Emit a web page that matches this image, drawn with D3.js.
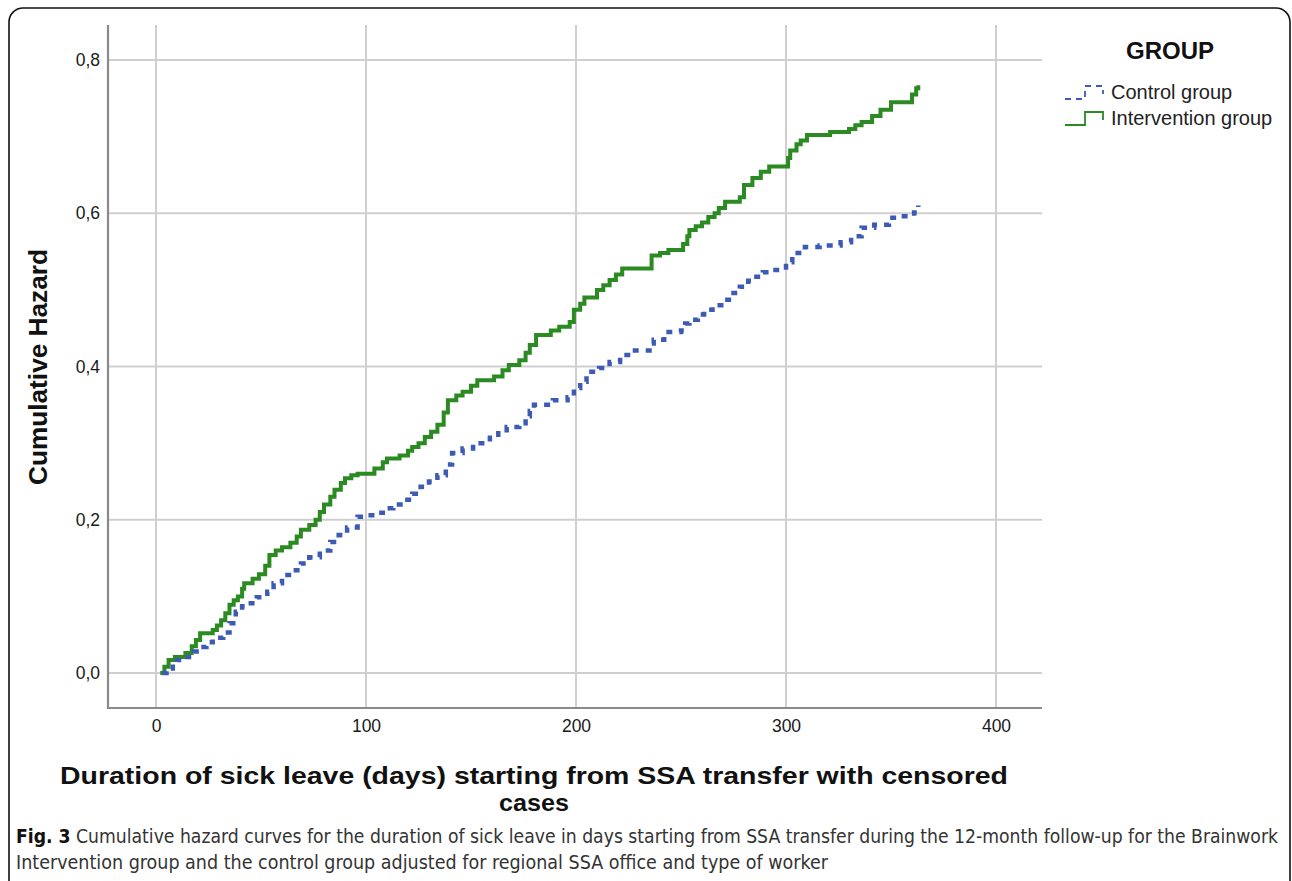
<!DOCTYPE html>
<html>
<head>
<meta charset="utf-8">
<script src="https://cdn.jsdelivr.net/npm/d3@7"></script>
<style>
  html, body { margin: 0; padding: 0; background: #fff; }
  svg { display: block; }
</style>
</head>
<body>
<svg id="chart" width="1292" height="881"></svg>
<script>
// ---- Data ----
const groups = ["Control group", "Intervention group"];
const xTicks = [0, 100, 200, 300, 400];
const yTicks = [0.0, 0.2, 0.4, 0.6, 0.8];
const yTickLabels = ["0,0", "0,2", "0,4", "0,6", "0,8"];

// [day, cumulative hazard] step points
const controlDays = [3,5,8,10,15,18,21,24,27,32,35,38,41,43,48,53,56,60,65,69,73,78,83,87,91,96,100,105,108,113,118,122,126,130,134,138,141,146,151,159,163,167,173,176,178,180,189,196,199,202,205,211,216,221,227,235,237,242,250,252,254,258,261,265,271,275,278,282,284,289,295,300,303,309,316,326,331,336,342,349,354,361,363];
const controlHazard = [0,0.006,0.012,0.017,0.021,0.028,0.034,0.04,0.046,0.053,0.065,0.08,0.087,0.091,0.099,0.106,0.117,0.128,0.134,0.143,0.151,0.16,0.171,0.18,0.19,0.204,0.206,0.209,0.215,0.22,0.226,0.234,0.243,0.25,0.258,0.272,0.287,0.293,0.30,0.307,0.313,0.321,0.326,0.335,0.342,0.35,0.356,0.36,0.372,0.38,0.393,0.398,0.406,0.415,0.421,0.43,0.435,0.445,0.447,0.456,0.461,0.468,0.474,0.48,0.487,0.496,0.504,0.512,0.517,0.523,0.526,0.536,0.548,0.556,0.558,0.562,0.57,0.581,0.585,0.594,0.596,0.601,0.61];

const interventionDays = [2,4,6,9,14,17,19,21,27,29,31,33,35,37,39,41,42,46,49,52,54,57,60,64,67,69,73,76,78,80,83,85,88,90,93,96,104,108,110,116,120,122,125,128,131,134,137,139,143,146,150,153,161,165,168,173,176,178,181,188,192,197,199,202,204,210,213,216,219,222,236,240,244,251,253,254,257,260,263,266,268,271,278,280,284,288,292,301,302,305,307,310,321,330,333,336,341,345,350,360,362,363];
const interventionHazard = [0,0.008,0.017,0.021,0.026,0.035,0.043,0.052,0.056,0.062,0.069,0.078,0.089,0.095,0.10,0.11,0.117,0.123,0.129,0.14,0.154,0.16,0.164,0.17,0.178,0.187,0.193,0.2,0.21,0.22,0.23,0.239,0.248,0.254,0.258,0.26,0.267,0.275,0.28,0.284,0.29,0.295,0.30,0.308,0.315,0.324,0.34,0.356,0.362,0.367,0.375,0.382,0.387,0.395,0.402,0.408,0.418,0.428,0.441,0.447,0.452,0.458,0.474,0.482,0.49,0.50,0.506,0.513,0.52,0.528,0.545,0.548,0.552,0.56,0.57,0.578,0.583,0.588,0.595,0.60,0.607,0.615,0.621,0.637,0.646,0.654,0.661,0.672,0.682,0.69,0.695,0.702,0.706,0.71,0.715,0.719,0.727,0.735,0.745,0.755,0.763,0.767];

const colors = { control: "#3d5bb5", intervention: "#2b8a22" };

// ---- Layout ----
const svg = d3.select("#chart");
const plotLeft = 108, plotRight = 1042, plotTop = 25, plotBottom = 708;

const x = d3.scaleLinear().domain([0, 400]).range([156, 996]);
const y = d3.scaleLinear().domain([0, 0.8]).range([673, 60]);

// frame
svg.append("rect")
  .attr("x", 9).attr("y", 8).attr("width", 1281).attr("height", 920)
  .attr("rx", 14).attr("ry", 14)
  .attr("fill", "none").attr("stroke", "#111").attr("stroke-width", 1.6);

// gridlines
const grid = svg.append("g");
grid.selectAll("line.vx").data(xTicks).join("line")
  .attr("x1", d => x(d)).attr("x2", d => x(d))
  .attr("y1", plotTop).attr("y2", plotBottom)
  .attr("stroke", "#cfcfcf").attr("stroke-width", 2);
grid.selectAll("line.hy").data(yTicks).join("line")
  .attr("x1", plotLeft).attr("x2", plotRight)
  .attr("y1", d => y(d)).attr("y2", d => y(d))
  .attr("stroke", "#cfcfcf").attr("stroke-width", 2);

// axes
const xAxis = d3.axisBottom(x).tickValues(xTicks).tickSize(0).tickPadding(12).tickFormat(d3.format("d"));
const gx = svg.append("g").attr("transform", `translate(0,${plotBottom})`).call(xAxis);
gx.select(".domain").remove();
gx.selectAll("text").attr("font-family", "Liberation Sans, Arial, sans-serif").attr("font-size", 17.5).attr("fill", "#1a1a1a");

const yAxis = d3.axisLeft(y).tickValues(yTicks).tickSize(0).tickPadding(8)
  .tickFormat((d, i) => yTickLabels[i]);
const gy = svg.append("g").attr("transform", `translate(${plotLeft},0)`).call(yAxis);
gy.select(".domain").remove();
gy.selectAll("text").attr("font-family", "Liberation Sans, Arial, sans-serif").attr("font-size", 17.5).attr("fill", "#1a1a1a");

svg.append("line").attr("x1", plotLeft).attr("x2", plotLeft).attr("y1", plotTop).attr("y2", plotBottom + 1)
  .attr("stroke", "#8a8a8a").attr("stroke-width", 2.2);
svg.append("line").attr("x1", plotLeft - 1).attr("x2", plotRight).attr("y1", plotBottom).attr("y2", plotBottom)
  .attr("stroke", "#8a8a8a").attr("stroke-width", 2.2);

// curves
const line = d3.line().x(d => x(d[0])).y(d => y(d[1])).curve(d3.curveStepAfter);
const ctrl = d3.zip(controlDays, controlHazard);
const intv = d3.zip(interventionDays, interventionHazard);

svg.append("path").datum(intv).attr("d", line)
  .attr("fill", "none").attr("stroke", colors.intervention).attr("stroke-width", 4)
  .attr("stroke-linejoin", "miter");
svg.append("path").datum(ctrl).attr("d", line)
  .attr("fill", "none").attr("stroke", colors.control).attr("stroke-width", 4.5)
  .attr("stroke-dasharray", "6,7");

// axis titles
const yTitle = svg.append("text")
  .attr("transform", "translate(47,367) rotate(-90)")
  .attr("text-anchor", "middle")
  .attr("font-family", "Liberation Sans, Arial, sans-serif").attr("font-weight", "bold")
  .attr("font-size", 26).attr("fill", "#111")
  .text("Cumulative Hazard");
yTitle.attr("textLength", 236).attr("lengthAdjust", "spacingAndGlyphs");

const xt1 = svg.append("text").attr("x", 534).attr("y", 784).attr("text-anchor", "middle")
  .attr("font-family", "Liberation Sans, Arial, sans-serif").attr("font-weight", "bold")
  .attr("font-size", 24).attr("fill", "#111")
  .text("Duration of sick leave (days) starting from SSA transfer with censored");
xt1.attr("textLength", 948).attr("lengthAdjust", "spacingAndGlyphs");
const xt2 = svg.append("text").attr("x", 534).attr("y", 811).attr("text-anchor", "middle")
  .attr("font-family", "Liberation Sans, Arial, sans-serif").attr("font-weight", "bold")
  .attr("font-size", 24).attr("fill", "#111")
  .text("cases");
xt2.attr("textLength", 70).attr("lengthAdjust", "spacingAndGlyphs");

// legend
svg.append("text").attr("x", 1170).attr("y", 59).attr("text-anchor", "middle")
  .attr("font-family", "Liberation Sans, Arial, sans-serif").attr("font-weight", "bold")
  .attr("font-size", 24).attr("fill", "#111").text("GROUP");

const legendItems = [
  { name: groups[0], color: colors.control, dash: "6,5", y: 92 },
  { name: groups[1], color: colors.intervention, dash: null, y: 118 }
];
legendItems.forEach(it => {
  const p = svg.append("path")
    .attr("d", `M1065,${it.y + 7} H1085 V${it.y - 6} H1103 V${it.y + 2}`)
    .attr("fill", "none").attr("stroke", it.color).attr("stroke-width", 1.8);
  if (it.dash) p.attr("stroke-dasharray", it.dash);
  svg.append("text").attr("x", 1111).attr("y", it.y + 7)
    .attr("font-family", "Liberation Sans, Arial, sans-serif").attr("font-size", 20)
    .attr("fill", "#222").text(it.name);
});

// caption
const capFont = "'Liberation Sans Narrow', 'DejaVu Sans Condensed', 'Open Sans', sans-serif";
const cap1 = svg.append("text").attr("x", 16).attr("y", 843)
  .attr("font-family", capFont).attr("font-size", 19).attr("fill", "#333");
cap1.append("tspan").attr("font-weight", "bold").attr("fill", "#111").text("Fig. 3");
cap1.append("tspan").text(" Cumulative hazard curves for the duration of sick leave in days starting from SSA transfer during the 12-month follow-up for the Brainwork");
cap1.attr("textLength", 1262).attr("lengthAdjust", "spacingAndGlyphs");

const cap2 = svg.append("text").attr("x", 16).attr("y", 869)
  .attr("font-family", capFont).attr("font-size", 19).attr("fill", "#333")
  .text("Intervention group and the control group adjusted for regional SSA office and type of worker");
cap2.attr("textLength", 812).attr("lengthAdjust", "spacingAndGlyphs");
</script>
</body>
</html>
